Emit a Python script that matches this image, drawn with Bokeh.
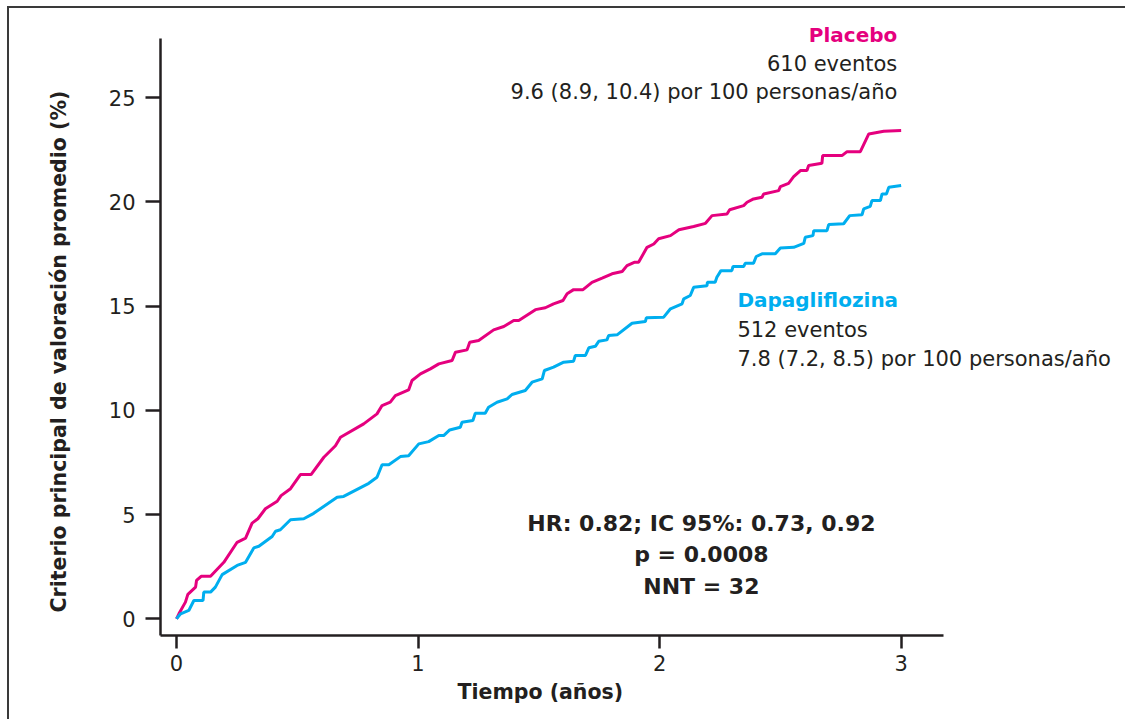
from bokeh.plotting import figure
from bokeh.models import Range1d, FixedTicker, Label, Title
from bokeh.embed import file_html
from bokeh.resources import INLINE

# ---- data ----
placebo_t = [0, 0.01, 0.037, 0.047, 0.079, 0.083, 0.102, 0.141, 0.196, 0.251, 0.286, 0.313, 0.337,
             0.368, 0.417, 0.433, 0.472, 0.513, 0.557, 0.610, 0.658, 0.679, 0.775, 0.830, 0.851,
             0.885, 0.906, 0.961, 0.975, 1.010, 1.051, 1.086, 1.141, 1.155, 1.203, 1.214, 1.251,
             1.313, 1.355, 1.396, 1.417, 1.486, 1.527, 1.561, 1.600, 1.617, 1.644, 1.683, 1.720,
             1.762, 1.803, 1.845, 1.865, 1.895, 1.913, 1.948, 1.976, 1.996, 2.045, 2.080, 2.141,
             2.190, 2.217, 2.279, 2.290, 2.348, 2.362, 2.389, 2.424, 2.431, 2.493, 2.500, 2.534,
             2.555, 2.583, 2.610, 2.617, 2.672, 2.675, 2.755, 2.776, 2.831, 2.866, 2.928, 3.000]
placebo_v = [0, 0.24, 0.80, 1.17, 1.52, 1.84, 2.04, 2.04, 2.71, 3.67, 3.87, 4.59, 4.80,
             5.28, 5.64, 5.91, 6.24, 6.92, 6.92, 7.75, 8.30, 8.71, 9.35, 9.83, 10.23,
             10.39, 10.71, 10.98, 11.43, 11.75, 11.99, 12.23, 12.39, 12.79, 12.90, 13.27, 13.35,
             13.86, 14.02, 14.31, 14.31, 14.83, 14.92, 15.11, 15.27, 15.59, 15.79, 15.79, 16.14,
             16.34, 16.55, 16.66, 16.94, 17.10, 17.10, 17.82, 17.98, 18.23, 18.38, 18.66, 18.82,
             18.97, 19.34, 19.42, 19.62, 19.82, 19.98, 20.14, 20.22, 20.38, 20.54, 20.73, 20.89,
             21.21, 21.50, 21.50, 21.74, 21.85, 22.22, 22.22, 22.41, 22.41, 23.26, 23.39, 23.42]

dapa_t = [0, 0.017, 0.051, 0.072, 0.110, 0.113, 0.141, 0.161, 0.189, 0.251, 0.286, 0.320, 0.341,
          0.396, 0.410, 0.430, 0.472, 0.527, 0.568, 0.665, 0.692, 0.796, 0.830, 0.851, 0.879,
          0.927, 0.961, 1.003, 1.044, 1.086, 1.106, 1.131, 1.175, 1.182, 1.227, 1.237, 1.278,
          1.292, 1.327, 1.369, 1.389, 1.444, 1.472, 1.514, 1.523, 1.561, 1.603, 1.644, 1.651,
          1.693, 1.707, 1.734, 1.748, 1.782, 1.789, 1.824, 1.886, 1.941, 1.945, 2.017, 2.045,
          2.093, 2.100, 2.127, 2.141, 2.196, 2.198, 2.230, 2.237, 2.254, 2.299, 2.304, 2.348,
          2.355, 2.389, 2.400, 2.424, 2.479, 2.500, 2.555, 2.597, 2.603, 2.635, 2.638, 2.693,
          2.700, 2.762, 2.787, 2.838, 2.845, 2.872, 2.879, 2.914, 2.921, 2.939, 2.949, 3.000]
dapa_v = [0, 0.24, 0.40, 0.88, 0.88, 1.28, 1.28, 1.52, 2.12, 2.56, 2.71, 3.40, 3.48,
          3.95, 4.20, 4.27, 4.75, 4.80, 5.06, 5.83, 5.87, 6.50, 6.79, 7.39, 7.39,
          7.78, 7.82, 8.39, 8.50, 8.79, 8.79, 9.06, 9.19, 9.43, 9.51, 9.86, 9.86,
          10.15, 10.39, 10.55, 10.76, 10.95, 11.35, 11.51, 11.91, 12.07, 12.31, 12.36, 12.63,
          12.63, 13.00, 13.07, 13.31, 13.38, 13.59, 13.62, 14.18, 14.26, 14.44, 14.47, 14.87,
          15.11, 15.35, 15.51, 15.90, 15.98, 16.14, 16.14, 16.38, 16.70, 16.70, 16.90, 16.90,
          17.06, 17.06, 17.38, 17.51, 17.51, 17.79, 17.82, 18.01, 18.30, 18.38, 18.62, 18.62,
          18.91, 18.95, 19.34, 19.38, 19.66, 19.78, 20.06, 20.06, 20.38, 20.38, 20.70, 20.78]

x_ticks = [0, 1, 2, 3]
y_ticks = [0, 5, 10, 15, 20, 25]

placebo_lines = ["Placebo", "610 eventos", "9.6 (8.9, 10.4) por 100 personas/año"]
dapa_lines = ["Dapagliflozina", "512 eventos", "7.8 (7.2, 8.5) por 100 personas/año"]
stats_lines = ["HR: 0.82; IC 95%: 0.73, 0.92", "p = 0.0008", "NNT = 32"]

x_label = "Tiempo (años)"
y_label = "Criterio principal de valoración promedio (%)"

# ---- styles ----
MAGENTA = "#E5007E"
CYAN = "#00AEEF"
DARK = "#231F20"
FONT = "DejaVu Sans"

X_AXIS_BOUNDS = (-0.0662, 3.175)
Y_AXIS_BOUNDS = (-0.801, 27.83)

p = figure(width=1125, height=713,
           x_range=Range1d(-0.0662, 3.966), y_range=Range1d(-0.801, 28.70),
           output_backend="svg", toolbar_location=None,
           min_border_left=151, min_border_right=0, min_border_top=12, min_border_bottom=86)
# frame line on the top and left edges only (drawn as an offset shadow)
p.styles = {"box-shadow": "-2px -2px 0px 0px #3a3a3a", "margin-left": "9px", "margin-top": "8px",
            "overflow": "visible", "max-width": "none"}
p.outline_line_color = None
p.xgrid.grid_line_color = None
p.ygrid.grid_line_color = None
p.background_fill_color = "white"
p.border_fill_color = "white"

p.line(placebo_t, placebo_v, line_color=MAGENTA, line_width=3)
p.line(dapa_t, dapa_v, line_color=CYAN, line_width=3)

for ax, ticks, tout, bnds in ((p.xaxis[0], x_ticks, 13, X_AXIS_BOUNDS),
                              (p.yaxis[0], y_ticks, 15, Y_AXIS_BOUNDS)):
    ax.ticker = FixedTicker(ticks=ticks)
    ax.bounds = bnds
    ax.minor_tick_line_color = None
    ax.major_tick_in = 0
    ax.major_tick_out = tout
    ax.axis_line_color = DARK
    ax.axis_line_width = 2.5
    ax.major_tick_line_color = DARK
    ax.major_tick_line_width = 2.5
    ax.major_label_text_font = FONT
    ax.major_label_text_font_size = "21px"
    ax.major_label_text_color = DARK

p.xaxis.major_label_standoff = 6
p.yaxis.major_label_standoff = 10

# axis titles (positioned off-centre like the reference)
p.add_layout(Title(text=x_label, align="left", offset=297, standoff=8,
                   text_font=FONT, text_font_size="20.5px", text_font_style="bold",
                   text_color=DARK), "below")
p.add_layout(Title(text=y_label, align="left", offset=23, standoff=70,
                   text_font=FONT, text_font_size="20.5px", text_font_style="bold",
                   text_color=DARK), "left")

# Placebo block (right aligned)
py = [28.02, 26.63, 25.29]
for i, txt in enumerate(placebo_lines):
    p.add_layout(Label(x=2.984, y=py[i], text=txt, text_align="right", text_baseline="middle",
                       text_font=FONT, text_font_size="20px" if i == 0 else "21px",
                       text_font_style="bold" if i == 0 else "normal",
                       text_color=MAGENTA if i == 0 else DARK))

# Dapagliflozina block (left aligned)
dy = [15.27, 13.83, 12.44]
for i, txt in enumerate(dapa_lines):
    p.add_layout(Label(x=2.322, y=dy[i], text=txt, text_align="left", text_baseline="middle",
                       text_font=FONT, text_font_size="20px" if i == 0 else "21px",
                       text_font_style="bold" if i == 0 else "normal",
                       text_color=CYAN if i == 0 else DARK))

# statistics
sy = [4.57, 3.08, 1.55]
for i, txt in enumerate(stats_lines):
    p.add_layout(Label(x=2.173, y=sy[i], text=txt, text_align="center", text_baseline="middle",
                       text_font=FONT, text_font_size="22px", text_font_style="bold",
                       text_color=DARK))

open("out.html", "w").write(file_html(p, INLINE))
